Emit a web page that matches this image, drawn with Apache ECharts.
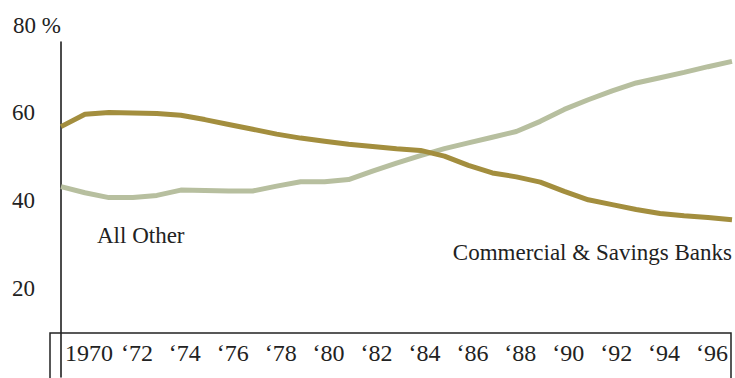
<!DOCTYPE html>
<html>
<head>
<meta charset="utf-8">
<script src="https://cdn.jsdelivr.net/npm/echarts@6/dist/echarts.min.js"></script>
<style>
html,body{margin:0;padding:0;background:#fff;}
#chart{width:735px;height:378px;}
</style>
</head>
<body>
<div id="chart"></div>
<script>
// Years (annual), x-axis tick labels
const years = [1969,1970,1971,1972,1973,1974,1975,1976,1977,1978,1979,1980,1981,1982,1983,1984,1985,1986,1987,1988,1989,1990,1991,1992,1993,1994,1995,1996,1997];
const tickLabels = {1970:'1970',1972:'\u201872',1974:'\u201874',1976:'\u201876',1978:'\u201878',1980:'\u201880',1982:'\u201882',1984:'\u201884',1986:'\u201886',1988:'\u201888',1990:'\u201890',1992:'\u201892',1994:'\u201894',1996:'\u201896'};
// Share (%) — Commercial & Savings Banks
const banks = [56.8,59.6,60.0,59.9,59.8,59.4,58.4,57.3,56.2,55.1,54.2,53.5,52.8,52.3,51.8,51.4,50.1,48.0,46.3,45.4,44.2,42.1,40.2,39.1,38.0,37.1,36.6,36.2,35.7];
// Share (%) — All Other
const allOther = [43.2,41.8,40.7,40.7,41.2,42.4,42.3,42.2,42.2,43.3,44.3,44.3,44.8,46.7,48.5,50.2,51.8,53.1,54.4,55.7,58.0,60.7,62.9,64.9,66.7,67.9,69.1,70.4,71.6];
const yTicks = [20,40,60];
const yTopLabel = '80 %';
const seriesNames = ['Commercial & Savings Banks','All Other'];

const FONT = 'Liberation Serif';
const chart = echarts.init(document.getElementById('chart'), null, {renderer:'svg'});
chart.setOption({
  animation:false,
  backgroundColor:'#ffffff',
  grid:{left:61,right:3,top:42,bottom:1},
  xAxis:{
    type:'category',
    data:years.map(String),
    boundaryGap:false,
    axisLine:{show:false},
    axisTick:{show:false},
    splitLine:{show:false},
    axisLabel:{
      inside:true,
      margin:12,
      interval:0,
      fontFamily:FONT,
      fontSize:24,
      color:'#222',
      padding:[0,0,0,8],
      formatter:function(v){return tickLabels[v]||'';}
    }
  },
  yAxis:{
    type:'value',
    min:0,max:76,interval:20,
    name:yTopLabel,
    nameLocation:'end',
    nameGap:5,
    nameTextStyle:{fontFamily:FONT,fontSize:23,color:'#222',align:'right'},
    axisLine:{show:true,lineStyle:{color:'#111',width:1.5}},
    axisTick:{show:false},
    splitLine:{show:false},
    axisLabel:{
      margin:26,
      fontFamily:FONT,
      fontSize:23,
      color:'#222',
      formatter:function(v){return yTicks.indexOf(v)>=0?String(v):'';}
    }
  },
  graphic:[
    {type:'rect',shape:{x:50,y:333,width:681,height:60},style:{fill:'none',stroke:'#222',lineWidth:1.5},z:1},
    {type:'text',x:97,y:235,style:{text:'All Other',fontFamily:FONT,fontSize:23,fill:'#222',textAlign:'left',textVerticalAlign:'middle'}},
    {type:'text',x:732,y:252,style:{text:'Commercial & Savings Banks',fontFamily:FONT,fontSize:23,fill:'#222',textAlign:'right',textVerticalAlign:'middle'}}
  ],
  series:[
    {name:seriesNames[1],type:'line',data:allOther,symbol:'none',lineStyle:{color:'#b7bf9f',width:5},z:2},
    {name:seriesNames[0],type:'line',data:banks,symbol:'none',lineStyle:{color:'#a38e3e',width:5},z:3}
  ]
});
</script>
</body>
</html>
